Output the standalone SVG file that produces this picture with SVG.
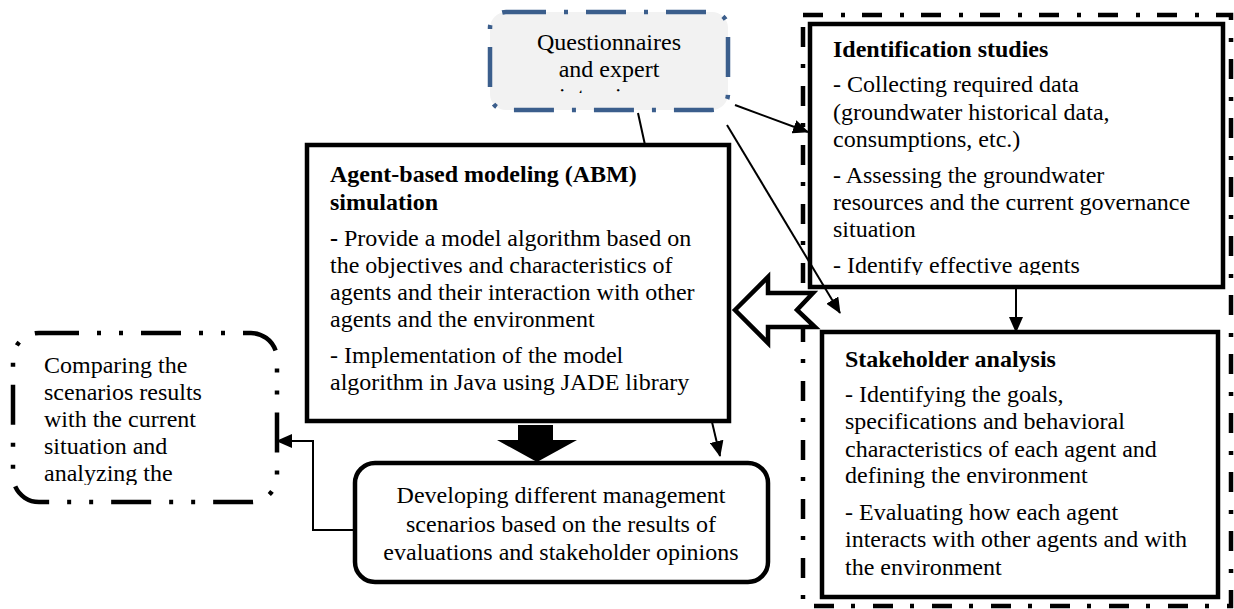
<svg xmlns="http://www.w3.org/2000/svg" width="1234" height="609" viewBox="0 0 1234 609">
<style>
text{font-family:"Liberation Serif","Times New Roman",serif;font-size:24px;fill:#000}
.b{font-weight:bold}
.box{fill:#fff;stroke:#000;stroke-width:4.5}
.conn{stroke:#000;stroke-width:2;fill:none}
</style>
<defs>
<marker id="ah" markerUnits="userSpaceOnUse" markerWidth="16" markerHeight="14" refX="15" refY="7" orient="auto">
<path d="M0,0 L16,7 L0,14 Z" fill="#000"/>
</marker>
<clipPath id="cq"><rect x="490" y="12" width="240" height="81"/></clipPath>
<clipPath id="cc"><rect x="12" y="330" width="268" height="155"/></clipPath>
<clipPath id="ci"><rect x="810" y="24" width="414" height="251"/></clipPath>
</defs>
<rect width="1234" height="609" fill="#fff"/>

<g id="outer-group">
<rect x="803" y="15" width="428" height="591" fill="none" stroke="#000" stroke-width="4.5" stroke-dasharray="20 18 4 17"/>
</g>

<g id="questionnaires">
<rect x="490" y="12" width="238" height="98" rx="16" fill="#f2f2f2" stroke="#3b5e8c" stroke-width="4.5" stroke-dasharray="40 18 4 18"/>
<g clip-path="url(#cq)">
<text x="609" y="50" text-anchor="middle">Questionnaires</text>
<text x="609" y="77" text-anchor="middle">and expert</text>
<text x="609" y="104" text-anchor="middle">interviews</text>
</g>
</g>

<g id="identification">
<rect class="box" x="810" y="24" width="413" height="263"/>
<g clip-path="url(#ci)">
<text x="833" y="57" class="b">Identification studies</text>
<text x="833" y="92">- Collecting required data</text>
<text x="833" y="120">(groundwater historical data,</text>
<text x="833" y="147">consumptions, etc.)</text>
<text x="833" y="183">- Assessing the groundwater</text>
<text x="833" y="210">resources and the current governance</text>
<text x="833" y="237">situation</text>
<text x="833" y="273">- Identify effective agents</text>
</g>
</g>

<g id="abm">
<rect class="box" x="307" y="145" width="422" height="276"/>
<text x="330" y="182" class="b">Agent-based modeling (ABM)</text>
<text x="330" y="210" class="b">simulation</text>
<text x="330" y="246"><tspan class="b">-</tspan> Provide a model algorithm based on</text>
<text x="330" y="273">the objectives and characteristics of</text>
<text x="330" y="300">agents and their interaction with other</text>
<text x="330" y="327">agents and the environment</text>
<text x="330" y="363">- Implementation of the model</text>
<text x="330" y="390">algorithm in Java using JADE library</text>
</g>

<g id="stakeholder">
<rect class="box" x="822" y="332" width="396" height="265"/>
<text x="845" y="367" class="b">Stakeholder analysis</text>
<text x="845" y="402">- Identifying the goals,</text>
<text x="845" y="429">specifications and behavioral</text>
<text x="845" y="457">characteristics of each agent and</text>
<text x="845" y="483">defining the environment</text>
<text x="845" y="520">- Evaluating how each agent</text>
<text x="845" y="547">interacts with other agents and with</text>
<text x="845" y="575">the environment</text>
</g>

<g id="developing">
<rect class="box" x="355" y="463" width="413" height="119" rx="20"/>
<text x="561" y="503" text-anchor="middle">Developing different management</text>
<text x="561" y="532" text-anchor="middle">scenarios based on the results of</text>
<text x="561" y="560" text-anchor="middle">evaluations and stakeholder opinions</text>
</g>

<g id="comparing">
<rect x="13" y="333" width="264" height="169" rx="26" fill="#fff" stroke="#000" stroke-width="4.5" stroke-dasharray="40 18 4 18 4 18"/>
<g clip-path="url(#cc)">
<text x="44" y="373">Comparing the</text>
<text x="44" y="400">scenarios results</text>
<text x="44" y="427">with the current</text>
<text x="44" y="454">situation and</text>
<text x="44" y="481">analyzing the</text>
<text x="44" y="508">results</text>
</g>
</g>

<g id="connectors">
<line class="conn" x1="638" y1="113" x2="645" y2="145"/>
<line class="conn" x1="735" y1="105" x2="808" y2="132" marker-end="url(#ah)"/>
<line class="conn" x1="727" y1="125" x2="840" y2="313" marker-end="url(#ah)"/>
<line class="conn" x1="712" y1="422" x2="720" y2="456" marker-end="url(#ah)"/>
<line class="conn" x1="1016" y1="288" x2="1016" y2="332" marker-end="url(#ah)"/>
<polyline class="conn" points="355,530 313,530 313,441 277,441" marker-end="url(#ah)"/>
<polygon points="518,425 553,425 553,440 577,440 537,462 497,440 518,440" fill="#000"/>
<polygon points="735,310 768,277 768,293 813,293 797,310 815,327 768,327 768,343" fill="#fff" stroke="#000" stroke-width="4.5" stroke-linejoin="miter"/>
</g>
</svg>
